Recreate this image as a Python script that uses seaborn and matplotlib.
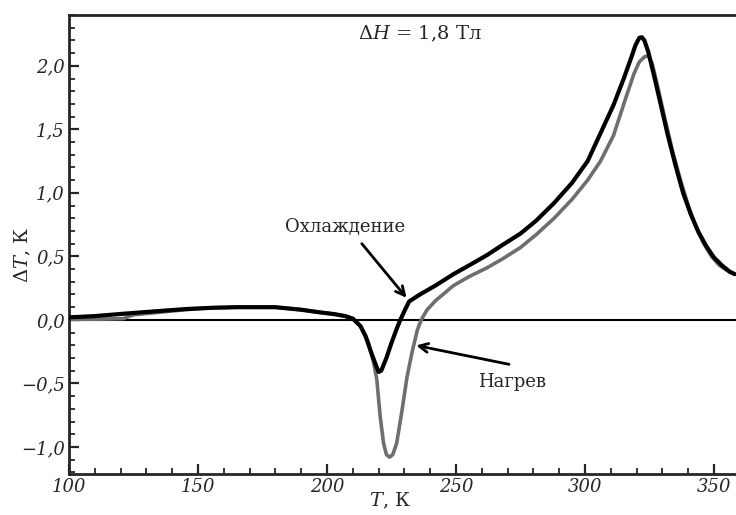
import numpy as np
import pandas as pd
import seaborn as sns
import matplotlib.pyplot as plt
from matplotlib.ticker import MultipleLocator, FuncFormatter

# охлаждение (черная кривая)
t_cool = [100, 110, 122, 135, 145, 155, 165, 180, 190, 197, 203, 207, 210, 213, 215, 217, 219, 220, 221,
          223, 225, 227, 228.4, 230, 231.8, 236, 242, 249, 256, 262, 268, 275, 281, 288, 295, 301, 306,
          311, 315, 318, 319.5, 321, 322, 323, 324.5, 327, 329.5, 332, 335, 338, 341, 344, 347, 350, 353,
          356, 358]
dt_cool = [0.02, 0.03, 0.05, 0.07, 0.085, 0.095, 0.10, 0.10, 0.08, 0.06, 0.045, 0.03, 0.01, -0.05, -0.13,
           -0.25, -0.36, -0.41, -0.40, -0.30, -0.18, -0.07, 0.0, 0.07, 0.145, 0.20, 0.27, 0.36, 0.44, 0.51,
           0.59, 0.68, 0.78, 0.92, 1.08, 1.25, 1.47, 1.69, 1.90, 2.07, 2.16, 2.22, 2.225, 2.20, 2.11, 1.90,
           1.68, 1.46, 1.22, 1.00, 0.83, 0.69, 0.58, 0.49, 0.43, 0.38, 0.36]

# нагрев (серая кривая)
t_heat = [100, 110, 121, 125, 135, 145, 155, 165, 180, 190, 197, 203, 207, 210, 213, 216, 218, 219.3, 220.6,
          221.9, 223, 224.2, 225.5, 227, 229, 231, 233, 235, 236.5, 238.8, 242, 249, 255, 262, 268, 275,
          281, 288, 295, 301, 306, 311, 316, 319, 321, 323, 324.5, 326, 328, 331, 334, 337, 340, 343, 346,
          349, 352, 355, 358]
dt_heat = [0.005, 0.005, 0.01, 0.04, 0.06, 0.08, 0.095, 0.10, 0.10, 0.08, 0.06, 0.045, 0.03, 0.01, -0.05,
           -0.18, -0.33, -0.47, -0.76, -0.97, -1.06, -1.08, -1.06, -0.97, -0.72, -0.45, -0.25, -0.08, 0.0,
           0.08, 0.15, 0.27, 0.34, 0.41, 0.48, 0.57, 0.67, 0.80, 0.95, 1.10, 1.25, 1.45, 1.76, 1.94, 2.03,
           2.07, 2.08, 2.02, 1.85, 1.58, 1.32, 1.10, 0.90, 0.73, 0.60, 0.50, 0.43, 0.39, 0.36]

cool = pd.DataFrame({'T': t_cool, 'dT': dt_cool})
heat = pd.DataFrame({'T': t_heat, 'dT': dt_heat})

sns.set_style('ticks')
plt.rcParams['font.family'] = ['DejaVu Serif']
plt.rcParams['mathtext.fontset'] = 'dejavuserif'

fig = plt.figure(figsize=(7.36, 5.15), dpi=100)
ax = fig.add_axes([0.09375, 0.0796, 0.90625, 0.8913])

ax.axhline(0, color='black', lw=1.5, zorder=1)
sns.lineplot(data=heat, x='T', y='dT', color='#6e6e6e', lw=2.6, sort=False, ax=ax, zorder=2)
sns.lineplot(data=cool, x='T', y='dT', color='black', lw=3.0, sort=False, ax=ax, zorder=3)

ax.set_xlim(100, 358.5)
ax.set_ylim(-1.213, 2.40)

ax.xaxis.set_major_locator(MultipleLocator(50))
ax.xaxis.set_minor_locator(MultipleLocator(10))
ax.yaxis.set_major_locator(MultipleLocator(0.5))
ax.yaxis.set_minor_locator(MultipleLocator(0.1))


def fmt_y(v, pos):
    s = f'{v:.1f}'.replace('.', ',')
    if s == '-0,0':
        s = '0,0'
    return s.replace('-', '\u2212')


ax.yaxis.set_major_formatter(FuncFormatter(fmt_y))
ax.xaxis.set_major_formatter(FuncFormatter(lambda v, p: f'{v:.0f}'))
ax.tick_params(which='major', direction='in', length=7, width=1.6, labelsize=13, pad=3)
ax.tick_params(which='minor', direction='in', length=4, width=1.3)
for lab in ax.get_xticklabels() + ax.get_yticklabels():
    lab.set_fontstyle('italic')

for side in ['left', 'bottom', 'top']:
    ax.spines[side].set_linewidth(2)
ax.spines['right'].set_visible(False)

ax.set_xlabel(r'$T$, К', fontsize=14, va='center')
ax.set_ylabel(r'$\Delta T$, К', fontsize=14, va='center')
ax.xaxis.set_label_coords(0.481, -0.058)
ax.yaxis.set_label_coords(-0.069, 0.477)

ax.text(236, 2.25, r'$\Delta H$ = 1,8 Тл', fontsize=14, ha='center', va='center')
ax.text(207, 0.735, 'Охлаждение', fontsize=13, ha='center', va='center')
ax.text(271.6, -0.49, 'Нагрев', fontsize=13, ha='center', va='center')
ax.annotate('', xy=(231.5, 0.157), xytext=(212.8, 0.617),
            arrowprops=dict(arrowstyle='->', color='black', lw=2, mutation_scale=16))
ax.annotate('', xy=(233.5, -0.197), xytext=(271.6, -0.354),
            arrowprops=dict(arrowstyle='->', color='black', lw=2, mutation_scale=16))

fig.savefig('out.png', dpi=100)
